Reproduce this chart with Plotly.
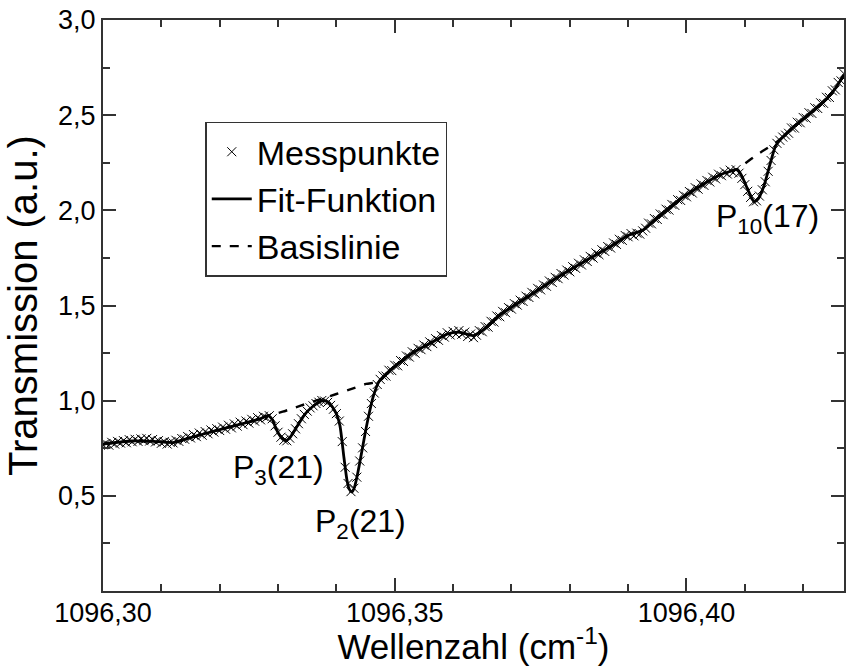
import plotly.graph_objects as go

# ---------------- data ----------------
# Messpunkte: sampled every 0.0005 cm^-1 starting at 1096.300
mess_start = 1096.300
mess_step = 0.0005
mess_y = [
    0.768, 0.775, 0.766, 0.781, 0.772, 0.786, 0.777, 0.790, 0.779, 0.795, 0.784,
    0.797, 0.786, 0.799, 0.790, 0.802, 0.788, 0.796, 0.783, 0.790, 0.776,
    0.785, 0.772, 0.781, 0.778, 0.792, 0.786, 0.801, 0.797, 0.812, 0.804,
    0.822, 0.811, 0.830, 0.818, 0.838, 0.826, 0.846, 0.835, 0.853, 0.843,
    0.861, 0.850, 0.871, 0.857, 0.878, 0.866, 0.887, 0.874, 0.893, 0.882,
    0.902, 0.892, 0.911, 0.899, 0.918, 0.910,
    0.921, 0.905, 0.868, 0.834, 0.808, 0.792, 0.789, 0.803, 0.826, 0.852,
    0.879, 0.905, 0.928, 0.945, 0.962, 0.973, 0.985, 0.992, 1.001, 0.998, 0.991,
    0.975, 0.955, 0.932, 0.893, 0.785, 0.650, 0.565, 0.522, 0.540, 0.598,
    0.683, 0.752, 0.838, 0.918, 0.985, 1.040, 1.085, 1.112,
    1.130, 1.129, 1.160, 1.158, 1.186,
    1.183, 1.211, 1.206, 1.235, 1.229, 1.257,
    1.249, 1.275, 1.268, 1.292, 1.284, 1.309,
    1.300, 1.326, 1.317, 1.342, 1.334, 1.357,
    1.345, 1.364, 1.350, 1.368,
    1.349, 1.360, 1.337, 1.350, 1.331,
    1.344, 1.368, 1.362, 1.389,
    1.386, 1.417, 1.413, 1.445, 1.441,
    1.469, 1.462, 1.489, 1.481, 1.510, 1.502, 1.528, 1.521, 1.549, 1.542,
    1.569, 1.561, 1.590, 1.582, 1.608, 1.601, 1.629, 1.621, 1.648, 1.641,
    1.668, 1.660, 1.686, 1.677, 1.704, 1.695, 1.722, 1.713, 1.740, 1.731,
    1.758, 1.749, 1.776, 1.767, 1.793, 1.784, 1.810, 1.802,
    1.829, 1.821, 1.848, 1.842, 1.868, 1.861,
    1.878, 1.866, 1.880, 1.875, 1.892,
    1.906, 1.933, 1.929, 1.957, 1.952,
    1.981, 1.977, 2.006, 2.001, 2.031, 2.026, 2.056, 2.052,
    2.079, 2.071, 2.099, 2.091, 2.119, 2.111, 2.139, 2.131,
    2.157, 2.149, 2.174, 2.165, 2.190, 2.182,
    2.202, 2.191, 2.211, 2.198, 2.214,
    2.195, 2.168, 2.135, 2.100, 2.068, 2.045, 2.050, 2.075, 2.108, 2.150,
    2.205, 2.262, 2.318, 2.352, 2.368, 2.385, 2.395,
    2.405, 2.433, 2.432, 2.463, 2.460, 2.488,
    2.484, 2.513, 2.509, 2.539, 2.535, 2.565, 2.562, 2.594,
    2.593, 2.628, 2.633, 2.672, 2.680, 2.718,
]
mess_x = [mess_start + mess_step * i for i in range(len(mess_y))]

fit_x = [
    1096.3000, 1096.3050, 1096.3100, 1096.3120, 1096.3150, 1096.3200, 1096.3250,
    1096.3270, 1096.3283, 1096.3290, 1096.3297, 1096.3305, 1096.3313, 1096.3320,
    1096.3328, 1096.3337, 1096.3348, 1096.3359, 1096.3370, 1096.3379, 1096.3386,
    1096.3393, 1096.3400, 1096.3406, 1096.3413, 1096.3418, 1096.3422, 1096.34265,
    1096.3431, 1096.3437, 1096.3444, 1096.3450, 1096.3456, 1096.3463, 1096.3473,
    1096.3485, 1096.3500, 1096.3530, 1096.3560, 1096.3590, 1096.3610, 1096.3635,
    1096.3655, 1096.3680, 1096.3730, 1096.3780, 1096.3830, 1096.3870, 1096.3900,
    1096.3925, 1096.3950, 1096.3990, 1096.4030, 1096.4060, 1096.4075, 1096.4087,
    1096.4095, 1096.4105, 1096.4116, 1096.4123, 1096.4133, 1096.4143, 1096.4153,
    1096.4165, 1096.4180, 1096.4200, 1096.4220, 1096.4240, 1096.4255, 1096.4270,
]
fit_y = [
    0.772, 0.788, 0.784, 0.780, 0.806, 0.848, 0.888,
    0.906, 0.921, 0.902, 0.850, 0.808, 0.790, 0.804,
    0.842, 0.887, 0.936, 0.968, 0.992, 1.000, 0.993,
    0.968, 0.930, 0.870, 0.700, 0.585, 0.535, 0.520,
    0.545, 0.625, 0.740, 0.840, 0.930, 1.020, 1.100,
    1.140, 1.180, 1.250, 1.300, 1.350, 1.360, 1.342,
    1.380, 1.450, 1.550, 1.650, 1.740, 1.810, 1.868,
    1.895, 1.960, 2.060, 2.140, 2.190, 2.205, 2.215,
    2.180, 2.110, 2.045, 2.060, 2.130, 2.240, 2.340,
    2.385, 2.430, 2.480, 2.530, 2.585, 2.640, 2.712,
]

base_x = [
    1096.3000, 1096.3050, 1096.3100, 1096.3120, 1096.3150, 1096.3200, 1096.3250,
    1096.3270, 1096.3283, 1096.3308, 1096.3340, 1096.3370, 1096.3400, 1096.3430,
    1096.3451, 1096.3473, 1096.3485, 1096.3500, 1096.3530, 1096.3560, 1096.3590,
    1096.3610, 1096.3635, 1096.3655, 1096.3680, 1096.3730, 1096.3780, 1096.3830,
    1096.3870, 1096.3900, 1096.3925, 1096.3950, 1096.3990, 1096.4030, 1096.4060,
    1096.4075, 1096.4087, 1096.4100, 1096.4120, 1096.4140, 1096.4153, 1096.4165,
    1096.4180, 1096.4200, 1096.4220, 1096.4240, 1096.4255, 1096.4270,
]
base_y = [
    0.772, 0.788, 0.784, 0.780, 0.806, 0.848, 0.888,
    0.906, 0.921, 0.942, 0.975, 1.005, 1.035, 1.066,
    1.088, 1.100, 1.140, 1.180, 1.250, 1.300, 1.350,
    1.360, 1.342, 1.380, 1.450, 1.550, 1.650, 1.740,
    1.810, 1.868, 1.895, 1.960, 2.060, 2.140, 2.190,
    2.205, 2.215, 2.245, 2.290, 2.330, 2.355, 2.385,
    2.430, 2.480, 2.530, 2.585, 2.640, 2.712,
]

x_ticks = [1096.30, 1096.35, 1096.40]
y_ticks = [0.5, 1.0, 1.5, 2.0, 2.5, 3.0]

FONT = "Liberation Sans, Arial, Helvetica, sans-serif"
INK = "#000000"
AXC = "#333333"

fig = go.Figure()
fig.add_trace(go.Scatter(
    x=mess_x, y=mess_y, mode="markers", name="Messpunkte",
    marker=dict(symbol="x-thin", size=9, color=INK, line=dict(width=1, color=INK)),
))
fig.add_trace(go.Scatter(
    x=fit_x, y=fit_y, mode="lines", name="Fit-Funktion",
    line=dict(color=INK, width=2.8, shape="spline", smoothing=0.6),
))
fig.add_trace(go.Scatter(
    x=base_x, y=base_y, mode="lines", name="Basislinie",
    line=dict(color=INK, width=2.4, dash="dash", shape="spline", smoothing=0.6),
))

annots = [
    dict(text="P<sub>3</sub>(21)", x=1096.33008, y=0.64),
    dict(text="P<sub>2</sub>(21)", x=1096.34406, y=0.355),
    dict(text="P<sub>10</sub>(17)", x=1096.41384, y=1.955),
]
for a in annots:
    fig.add_annotation(text=a["text"], x=a["x"], y=a["y"], xref="x", yref="y",
                       showarrow=False, font=dict(family=FONT, size=32, color=INK),
                       xanchor="center", yanchor="middle")

fig.update_layout(
    width=847, height=666,
    margin=dict(l=103, r=1, t=20, b=75),
    paper_bgcolor="white", plot_bgcolor="white",
    separators=",.",
    font=dict(family=FONT, color=INK),
    showlegend=True,
    legend=dict(
        x=0.138, y=0.822, xanchor="left", yanchor="top",
        bordercolor=AXC, borderwidth=1.5, bgcolor="white",
        font=dict(family=FONT, size=34, color=INK),
        tracegroupgap=0, itemwidth=40,
    ),
)
fig.update_xaxes(
    range=[1096.300, 1096.427], tickvals=x_ticks, tickformat=".2f",
    showgrid=False, zeroline=False,
    showline=True, linecolor=AXC, linewidth=2, mirror="allticks",
    ticks="inside", ticklen=13, tickwidth=1.5, tickcolor=AXC,
    minor=dict(ticks="inside", ticklen=7, tickwidth=1.5, tickcolor=AXC, dtick=0.01, tick0=1096.30, showgrid=False),
    tickfont=dict(family=FONT, size=27, color=INK), ticklabelstandoff=-3,
    title=dict(text="Wellenzahl (cm<sup>-1</sup>)", font=dict(family=FONT, size=35, color=INK), standoff=2),
)
fig.update_yaxes(
    range=[0, 3.0], tickvals=y_ticks, tickformat=".1f",
    showgrid=False, zeroline=False,
    showline=True, linecolor=AXC, linewidth=2, mirror="allticks",
    ticks="inside", ticklen=13, tickwidth=1.5, tickcolor=AXC,
    minor=dict(ticks="inside", ticklen=7, tickwidth=1.5, tickcolor=AXC, dtick=0.25, tick0=0, showgrid=False),
    tickfont=dict(family=FONT, size=27, color=INK),
    title=dict(text="Transmission (a.u.)", font=dict(family=FONT, size=40, color=INK), standoff=8),
)

fig.write_html("out.html")
